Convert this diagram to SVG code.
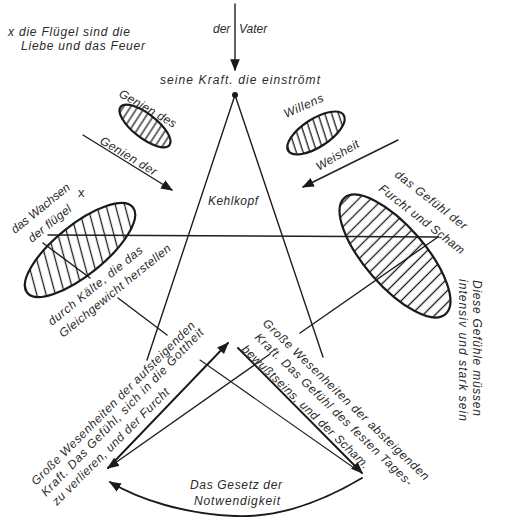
<svg xmlns="http://www.w3.org/2000/svg" width="506" height="527" viewBox="0 0 506 527">
<style>
text{font-family:"Liberation Sans","DejaVu Sans",sans-serif;font-style:italic;font-size:12px;fill:#2a2a2a}
.ln{stroke:#1e1e1e;stroke-width:1.4;fill:none;stroke-linecap:round}
.th{stroke:#1a1a1a;stroke-width:1.9;fill:none;stroke-linecap:round}
.ell{stroke:#1a1a1a;stroke-width:2.2}
</style>
<defs>
<marker id="ahb" viewBox="0 0 10 10" refX="9" refY="5" markerWidth="12" markerHeight="12" markerUnits="userSpaceOnUse" orient="auto-start-reverse">
<path d="M0,1 L10,5 L0,9 z" fill="#1a1a1a"/>
</marker>
<pattern id="hL" patternUnits="userSpaceOnUse" width="9" height="9" patternTransform="rotate(24)"><line x1="4.5" y1="0" x2="4.5" y2="9" stroke="#1e1e1e" stroke-width="1.3"/></pattern>
<pattern id="hR" patternUnits="userSpaceOnUse" width="8.5" height="8.5" patternTransform="rotate(-4)"><line x1="4.2" y1="0" x2="4.2" y2="8.5" stroke="#1e1e1e" stroke-width="1.3"/></pattern>
<pattern id="hG" patternUnits="userSpaceOnUse" width="6" height="6" patternTransform="rotate(-5)"><line x1="3" y1="0" x2="3" y2="6" stroke="#1e1e1e" stroke-width="1.3"/></pattern>
<pattern id="hW" patternUnits="userSpaceOnUse" width="6.5" height="6.5" patternTransform="rotate(15)"><line x1="3" y1="0" x2="3" y2="6.5" stroke="#1e1e1e" stroke-width="1.3"/></pattern>
</defs>
<rect width="506" height="527" fill="#ffffff"/>

<g id="connectors">
<line class="ln" x1="235" y1="4" x2="235" y2="70" marker-end="url(#ahb)"/>
<line class="ln" x1="235" y1="95" x2="147" y2="360"/>
<line class="ln" x1="235" y1="95" x2="323" y2="357"/>
<line class="ln" x1="48" y1="235" x2="438" y2="237"/>
<line class="ln" x1="43" y1="243" x2="90" y2="278"/>
<line class="ln" x1="118" y1="298" x2="167" y2="335"/>
<line class="ln" x1="200" y1="360" x2="357" y2="470" style="stroke-width:1.1"/>
<line class="ln" x1="438" y1="237" x2="300" y2="333"/>
<line class="ln" x1="270" y1="354" x2="108" y2="468" marker-end="url(#ahb)"/>
<line class="th" x1="108" y1="468" x2="228" y2="343" marker-end="url(#ahb)"/>
<line class="th" x1="238" y1="348" x2="362" y2="473" marker-end="url(#ahb)"/>
<line class="ln" x1="83" y1="135" x2="172" y2="190" marker-end="url(#ahb)"/>
<line class="ln" x1="398" y1="140" x2="303" y2="187" marker-end="url(#ahb)"/>
<path class="th" d="M362,478 C325,500 280,518 235,516 C185,514 140,500 110,482" marker-end="url(#ahb)"/>
<circle cx="235" cy="95" r="3" fill="#1a1a1a"/>
</g>

<g id="note-fluegel">
<text x="8" y="36" textLength="122">x die Flügel sind die</text>
<text x="21" y="50" textLength="124">Liebe und das Feuer</text>
</g>

<g id="vater">
<text x="213" y="33">der</text>
<text x="239" y="33">Vater</text>
</g>

<g id="kraft">
<text x="160" y="84" textLength="160">seine Kraft. die einströmt</text>
</g>

<g id="genien">
<ellipse class="ell" cx="145" cy="126" rx="31" ry="12" fill="url(#hG)" transform="rotate(38 145 126)"/>
<text x="118" y="96" transform="rotate(30 118 96)" textLength="64">Genien des</text>
<text x="99" y="143" transform="rotate(31 99 143)" textLength="64">Genien der</text>
</g>

<g id="willens">
<ellipse class="ell" cx="316" cy="133" rx="33" ry="14" fill="url(#hW)" transform="rotate(-33 316 133)"/>
<text x="286" y="118" transform="rotate(-24 286 118)" textLength="42">Willens</text>
<text x="319" y="171" transform="rotate(-31 319 171)" textLength="48">Weisheit</text>
</g>

<g id="kehlkopf">
<text x="208" y="205" textLength="50">Kehlkopf</text>
</g>

<g id="wachsen">
<ellipse class="ell" cx="80" cy="250" rx="68" ry="25" fill="url(#hL)" transform="rotate(-39 80 250)"/>
<text x="15" y="234" transform="rotate(-39 15 234)" textLength="72">das Wachsen</text>
<text x="32" y="243" transform="rotate(-39 32 243)" textLength="52">der flügel</text>
<text x="78" y="197" style="font-style:normal;font-size:13px">x</text>
<text x="52" y="326" transform="rotate(-39 52 326)" textLength="118">durch Kälte, die das</text>
<text x="63" y="338" transform="rotate(-39 63 338)" textLength="140">Gleichgewicht herstellen</text>
</g>

<g id="furcht-scham">
<ellipse class="ell" cx="395" cy="256" rx="77" ry="30" fill="url(#hR)" transform="rotate(49 395 256)"/>
<text x="394" y="176" transform="rotate(38 394 176)" textLength="88">das Gefühl der</text>
<text x="378" y="190" transform="rotate(38 378 190)" textLength="105">Furcht und Scham</text>
</g>

<g id="gefuehle">
<text x="473" y="280" transform="rotate(90 473 280)" textLength="136">Diese Gefühle müssen</text>
<text x="459" y="279" transform="rotate(90 459 279)" textLength="142">intensiv und stark sein</text>
</g>

<g id="aufsteigend">
<text x="36" y="486" transform="rotate(-45 36 486)" textLength="226">Große Wesenheiten der aufsteigenden</text>
<text x="46" y="497" transform="rotate(-46 46 497)" textLength="228">Kraft. Das Gefühl, sich in die Gottheit</text>
<text x="57" y="506" transform="rotate(-45 57 506)" textLength="160">zu verlieren, und der Furcht</text>
</g>

<g id="absteigend">
<text x="262" y="324" transform="rotate(44 262 324)" textLength="226">Große Wesenheiten der absteigenden</text>
<text x="254" y="338" transform="rotate(44 254 338)" textLength="214">Kraft. Das Gefühl des festen Tages-</text>
<text x="241" y="350" transform="rotate(44 241 350)" textLength="172">bewußtseins, und der Scham.</text>
</g>

<g id="gesetz">
<text x="190" y="489" textLength="92">Das Gesetz der</text>
<text x="194" y="505" textLength="86">Notwendigkeit</text>
</g>
</svg>
